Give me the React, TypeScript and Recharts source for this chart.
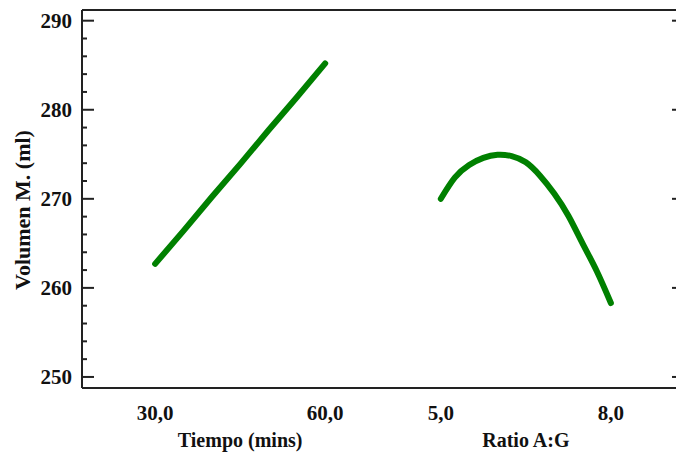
import { LineChart, Line, XAxis, YAxis } from "recharts";

// Efectos principales: Volumen M. (ml)
const tiempoMins = [30, 35, 40, 45, 50, 55, 60];
const tiempoVolumen = [262.7, 266.4, 270.2, 273.9, 277.7, 281.4, 285.2];

const ratioAG = [5.0, 5.25, 5.5, 5.75, 6.0, 6.25, 6.5, 6.75, 7.0, 7.25, 7.5, 7.75, 8.0];
const ratioVolumen = [
  270.0, 272.4, 273.8, 274.6, 274.95, 274.8, 274.1, 272.6, 270.6, 268.1, 265.0, 261.9, 258.3,
];

const factorTitles = ["Tiempo (mins)", "Ratio A:G"];
const xTickLabels = ["30,0", "60,0", "5,0", "8,0"];
const yTicks = [
  250, 252, 254, 256, 258, 260, 262, 264, 266, 268, 270, 272, 274, 276, 278, 280, 282, 284, 286,
  288, 290,
];

// each factor gets one unit on the shared x axis
const GAP = 0.68;
const PAD = 0.43;
const ratioStart = 1 + GAP;
const xDomain = [-PAD, 2 + GAP + PAD];
const yDomain = [248.76, 291.2];

const tiempoData = tiempoMins.map((t, i) => ({
  pos: (t - tiempoMins[0]) / (tiempoMins[tiempoMins.length - 1] - tiempoMins[0]),
  v: tiempoVolumen[i],
}));
const ratioData = ratioAG.map((r, i) => ({
  pos: ratioStart + (r - ratioAG[0]) / (ratioAG[ratioAG.length - 1] - ratioAG[0]),
  v: ratioVolumen[i],
}));
const allData = [...tiempoData, ...ratioData];

const xTicks = [0, 1, ratioStart, ratioStart + 1];
const titleTicks = [0.5, ratioStart + 0.5];

const FONT = "'Liberation Serif', 'Times New Roman', serif";
const INK = "#111";
const AXIS = "#222";
const GREEN = "#008000";

function LeftTick({ x, y, payload }: any) {
  const major = payload.value % 10 === 0;
  return (
    <g>
      <line x1={x} x2={x + (major ? 12 : 5)} y1={y} y2={y} stroke={AXIS} strokeWidth={2} />
      {major && (
        <text x={x - 10} y={y} dy={7} textAnchor="end" fontFamily={FONT} fontWeight="bold" fontSize={21} fill={INK}>
          {payload.value}
        </text>
      )}
    </g>
  );
}

function RightTick({ x, y, payload }: any) {
  const major = payload.value % 10 === 0;
  return <line x1={x - (major ? 12 : 5)} x2={x} y1={y} y2={y} stroke={AXIS} strokeWidth={2} />;
}

function ValueTick({ x, y, index }: any) {
  return (
    <text x={x} y={y} dy={32} textAnchor="middle" fontFamily={FONT} fontWeight="bold" fontSize={21} fill={INK}>
      {xTickLabels[index]}
    </text>
  );
}

function TitleTick({ x, y, index }: any) {
  return (
    <text x={x} y={y} dy={24} textAnchor="middle" fontFamily={FONT} fontWeight="bold" fontSize={20} fill={INK}>
      {factorTitles[index]}
    </text>
  );
}

function YTitle({ viewBox }: any) {
  const cx = viewBox.x + 30;
  const cy = viewBox.y + viewBox.height / 2 + 11;
  return (
    <text
      x={cx}
      y={cy}
      transform={`rotate(-90, ${cx}, ${cy})`}
      textAnchor="middle"
      fontFamily={FONT}
      fontWeight="bold"
      fontSize={22}
      fill={INK}
    >
      Volumen M. (ml)
    </text>
  );
}

export default function App() {
  return (
    <div
      style={{
        position: "fixed",
        left: 0,
        top: 0,
        width: 676,
        height: 458,
        overflow: "hidden",
        background: "#fff",
      }}
    >
      <LineChart width={700} height={458} data={allData} margin={{ top: 9, right: 15, bottom: 0, left: 0 }}>
        <XAxis
          type="number"
          dataKey="pos"
          domain={xDomain}
          ticks={xTicks}
          tick={<ValueTick />}
          tickLine={false}
          tickSize={0}
          tickMargin={0}
          height={35}
          axisLine={{ stroke: AXIS, strokeWidth: 2 }}
        />
        <XAxis
          xAxisId="titles"
          type="number"
          dataKey="pos"
          domain={xDomain}
          ticks={titleTicks}
          tick={<TitleTick />}
          tickLine={false}
          tickSize={0}
          tickMargin={0}
          height={35}
          axisLine={false}
        />
        <XAxis
          xAxisId="top"
          orientation="top"
          type="number"
          dataKey="pos"
          domain={xDomain}
          ticks={xTicks}
          tick={false}
          tickLine={false}
          height={1}
          axisLine={{ stroke: AXIS, strokeWidth: 2 }}
        />
        <YAxis
          type="number"
          domain={yDomain}
          ticks={yTicks}
          interval={0}
          width={82}
          tick={<LeftTick />}
          tickLine={false}
          tickSize={0}
          tickMargin={0}
          axisLine={{ stroke: AXIS, strokeWidth: 2 }}
          label={<YTitle />}
        />
        <YAxis
          yAxisId="right"
          orientation="right"
          type="number"
          dataKey="v"
          domain={yDomain}
          ticks={yTicks}
          interval={0}
          width={1}
          tick={<RightTick />}
          tickLine={false}
          tickSize={0}
          tickMargin={0}
          axisLine={{ stroke: AXIS, strokeWidth: 2 }}
        />
        <Line
          data={tiempoData}
          dataKey="v"
          type="linear"
          stroke={GREEN}
          strokeWidth={6}
          strokeLinecap="round"
          dot={false}
          isAnimationActive={false}
        />
        <Line
          data={ratioData}
          dataKey="v"
          type="natural"
          stroke={GREEN}
          strokeWidth={6}
          strokeLinecap="round"
          dot={false}
          isAnimationActive={false}
        />
      </LineChart>
    </div>
  );
}
